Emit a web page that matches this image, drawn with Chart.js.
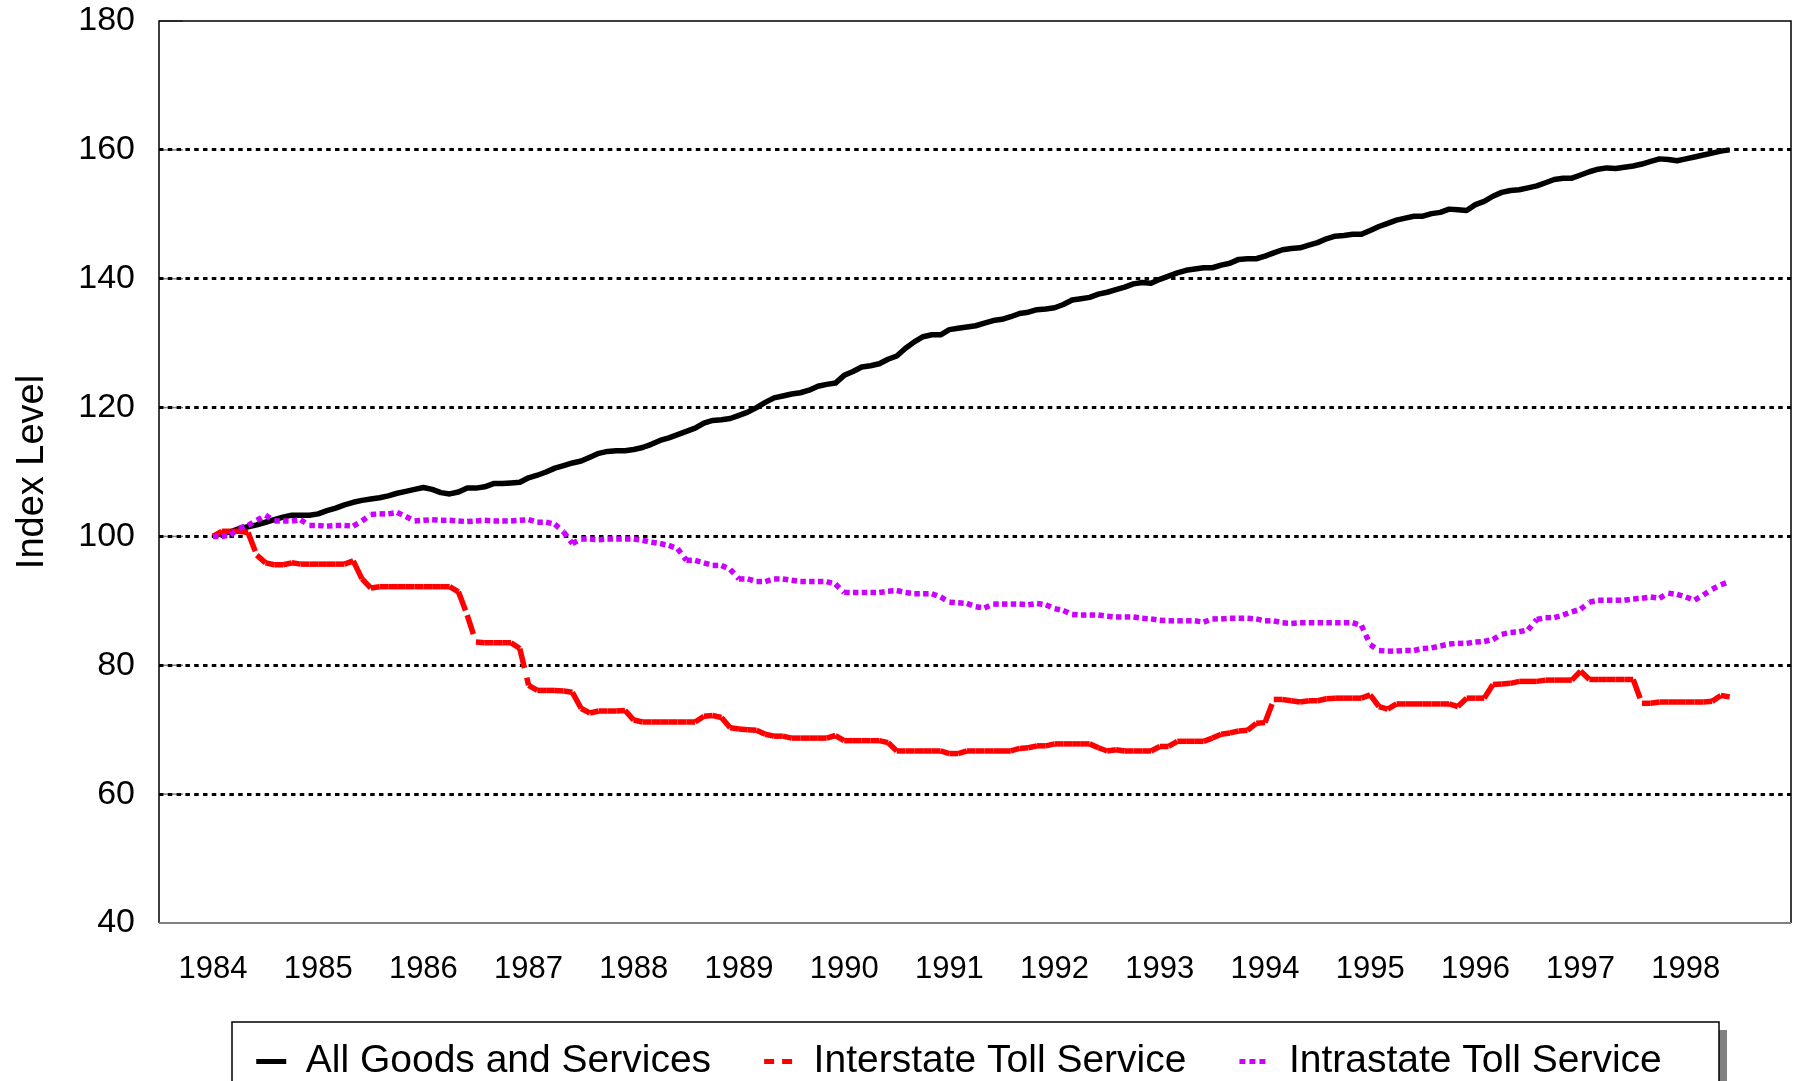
<!DOCTYPE html>
<html>
<head>
<meta charset="utf-8">
<title>Index Level 1984-1998</title>
<script src="https://cdn.jsdelivr.net/npm/chart.js@4.4.1/dist/chart.umd.min.js"></script>
<style>
  html, body { margin: 0; padding: 0; background: #fff; overflow: hidden; }
  #wrap { width: 1795px; height: 1100px; }
</style>
</head>
<body>
<div id="wrap"><canvas id="chart"></canvas></div>
<script>
// monthly index values, Jan 1984 = 100, running Jan 1984 .. Jun 1998
const startYear = 1984;
const yearTicks = [1984, 1985, 1986, 1987, 1988, 1989, 1990, 1991, 1992, 1993, 1994, 1995, 1996, 1997, 1998];
const seriesNames = ["All Goods and Services", "Interstate Toll Service", "Intrastate Toll Service"];

const allGoods = [
  100.0, 100.5, 100.7, 101.2, 101.5, 101.8, 102.2, 102.6, 103.0, 103.3, 103.3, 103.3,
  103.5, 104.0, 104.4, 104.9, 105.3, 105.6, 105.8, 106.0, 106.3, 106.7, 107.0, 107.3,
  107.6, 107.3, 106.8, 106.6, 106.9, 107.5, 107.5, 107.7, 108.2, 108.2, 108.3, 108.4,
  109.1, 109.5, 110.0, 110.6, 111.0, 111.4, 111.7, 112.3, 112.9, 113.2, 113.3, 113.3,
  113.5, 113.8, 114.3, 114.9, 115.3, 115.8, 116.3, 116.8, 117.6, 118.0, 118.1, 118.3,
  118.8, 119.3, 120.0, 120.8, 121.5, 121.8, 122.1, 122.3, 122.7, 123.3, 123.6, 123.8,
  125.0, 125.6, 126.3, 126.5, 126.8, 127.5, 128.0, 129.2, 130.2, 131.0, 131.3, 131.3,
  132.1, 132.3, 132.5, 132.7, 133.1, 133.5, 133.7, 134.1, 134.6, 134.8, 135.2, 135.3,
  135.5, 136.0, 136.7, 136.9, 137.1, 137.6, 137.9, 138.3, 138.7, 139.2, 139.4, 139.3,
  139.9, 140.4, 140.9, 141.3, 141.5, 141.7, 141.7, 142.1, 142.4, 143.0, 143.1, 143.1,
  143.5, 144.0, 144.5, 144.7, 144.8, 145.2, 145.6, 146.2, 146.6, 146.7, 146.9, 146.9,
  147.5, 148.1, 148.6, 149.1, 149.4, 149.7, 149.7, 150.1, 150.3, 150.8, 150.7, 150.6,
  151.5, 152.0, 152.8, 153.4, 153.7, 153.8, 154.1, 154.4, 154.9, 155.4, 155.6, 155.6,
  156.1, 156.6, 157.0, 157.2, 157.1, 157.3, 157.5, 157.8, 158.2, 158.6, 158.5, 158.3,
  158.6, 158.9, 159.2, 159.5, 159.8, 160.0
];

const interstate = [
  100.0, 100.8, 100.8, 100.8, 100.6, 97.1, 95.9, 95.6, 95.6, 95.9, 95.7, 95.7,
  95.7, 95.7, 95.7, 95.7, 96.2, 93.4, 92.0, 92.2, 92.2, 92.2, 92.2, 92.2,
  92.2, 92.2, 92.2, 92.2, 91.4, 87.8, 83.6, 83.5, 83.5, 83.5, 83.5, 82.6,
  76.9, 76.1, 76.1, 76.1, 76.0, 75.8, 73.3, 72.6, 72.9, 72.9, 72.9, 73.0,
  71.5, 71.2, 71.2, 71.2, 71.2, 71.2, 71.2, 71.2, 72.1, 72.2, 71.9, 70.3,
  70.1, 70.0, 69.9, 69.3, 69.0, 69.0, 68.7, 68.7, 68.7, 68.7, 68.7, 69.1,
  68.3, 68.3, 68.3, 68.3, 68.3, 68.0, 66.7, 66.7, 66.7, 66.7, 66.7, 66.7,
  66.3, 66.3, 66.7, 66.7, 66.7, 66.7, 66.7, 66.7, 67.1, 67.2, 67.5, 67.5,
  67.8, 67.8, 67.8, 67.8, 67.8, 67.2, 66.7, 66.9, 66.7, 66.7, 66.7, 66.7,
  67.4, 67.4, 68.2, 68.2, 68.2, 68.2, 68.7, 69.3, 69.5, 69.8, 69.9, 71.0,
  71.1, 74.7, 74.7, 74.5, 74.3, 74.5, 74.5, 74.8, 74.9, 74.9, 74.9, 74.9,
  75.4, 73.6, 73.2, 74.0, 74.0, 74.0, 74.0, 74.0, 74.0, 74.0, 73.6, 74.9,
  74.9, 74.9, 77.0, 77.1, 77.2, 77.5, 77.5, 77.5, 77.7, 77.7, 77.7, 77.7,
  79.1, 77.8, 77.8, 77.8, 77.8, 77.8, 77.8, 74.1, 74.1, 74.3, 74.3, 74.3,
  74.3, 74.3, 74.3, 74.4, 75.3, 75.1
];

const intrastate = [
  100.0, 100.0, 100.2, 101.3, 101.7, 102.5, 103.3, 102.4, 102.4, 102.4, 102.6, 101.7,
  101.7, 101.6, 101.7, 101.7, 101.6, 102.4, 103.4, 103.5, 103.5, 103.7, 103.1, 102.4,
  102.5, 102.6, 102.5, 102.5, 102.4, 102.3, 102.4, 102.5, 102.4, 102.4, 102.4, 102.5,
  102.6, 102.2, 102.2, 101.9, 100.7, 98.9, 99.6, 99.6, 99.5, 99.6, 99.6, 99.6,
  99.6, 99.4, 99.1, 98.9, 98.6, 98.1, 96.3, 96.3, 95.9, 95.5, 95.5, 94.9,
  93.4, 93.4, 93.0, 93.0, 93.4, 93.4, 93.2, 93.0, 93.0, 93.0, 93.0, 92.6,
  91.3, 91.3, 91.3, 91.3, 91.3, 91.5, 91.6, 91.3, 91.1, 91.1, 91.1, 90.6,
  89.8, 89.7, 89.6, 89.1, 88.9, 89.5, 89.5, 89.5, 89.5, 89.4, 89.6, 89.4,
  88.8, 88.5, 87.9, 87.8, 87.8, 87.8, 87.6, 87.5, 87.5, 87.5, 87.3, 87.2,
  87.0, 86.9, 86.9, 86.9, 86.9, 86.7, 87.2, 87.2, 87.3, 87.3, 87.3, 87.2,
  86.9, 86.9, 86.6, 86.5, 86.6, 86.6, 86.6, 86.6, 86.6, 86.6, 86.6, 86.2,
  83.2, 82.3, 82.2, 82.2, 82.3, 82.3, 82.6, 82.7, 83.0, 83.3, 83.4, 83.4,
  83.6, 83.7, 84.0, 84.8, 85.1, 85.2, 85.5, 87.1, 87.4, 87.4, 87.8, 88.3,
  88.7, 89.8, 90.1, 90.1, 90.1, 90.1, 90.3, 90.4, 90.6, 90.4, 91.2, 91.0,
  90.6, 90.1, 90.9, 91.8, 92.5, 93.0
];

const lineColors = ["#000000", "#ff0000", "#cc00ff"];
const legendDash = [[], [10, 8], [6, 4]];

Chart.defaults.font.family = "'Liberation Sans', Arial, sans-serif";
Chart.defaults.color = "#000";

// month index -> fractional year on the x axis
function toPoints(values) {
    return values.map((v, i) => ({ x: startYear + i / 12, y: v }));
}

// old-style dashes start over on every segment, so give neighbours a different offset
const restartDash = c => (c.p0DataIndex % 2) * 0.001;

const framePlugin = {
    id: "frame",
    afterLayout(chart) {
        // nudge the legend row a little to the left, like the original
        chart.legend.left -= 16;
        chart.legend.right -= 16;
    },
    beforeDraw(chart) {
        const { ctx, chartArea: a, scales: { y } } = chart;
        const lg = chart.legend;
        ctx.save();
        // legend box with its shadow
        const bx = a.left + 73, bw = a.width - 145, by = lg.top + 33, bh = 140;
        ctx.fillStyle = "#808080";
        ctx.fillRect(bx + 8, by + 8, bw, bh);
        ctx.fillStyle = "#fff";
        ctx.fillRect(bx, by, bw, bh);
        ctx.strokeStyle = "#000";
        ctx.lineWidth = 1.5;
        ctx.strokeRect(bx, by, bw, bh);
        // small inside tick marks on the value axis
        ctx.strokeStyle = "#808080";
        ctx.lineWidth = 1.5;
        y.ticks.forEach(t => {
            const py = y.getPixelForValue(t.value);
            ctx.beginPath();
            ctx.moveTo(a.left, py);
            ctx.lineTo(a.left + 24, py);
            ctx.stroke();
        });
        ctx.restore();
    },
    afterDatasetsDraw(chart) {
        const { ctx, chartArea: a } = chart;
        ctx.save();
        ctx.strokeStyle = "#000";
        ctx.lineWidth = 1.5;
        ctx.beginPath();
        ctx.moveTo(a.left, a.bottom);
        ctx.lineTo(a.left, a.top);
        ctx.lineTo(a.right, a.top);
        ctx.lineTo(a.right, a.bottom);
        ctx.stroke();
        ctx.strokeStyle = "#808080";
        ctx.lineWidth = 2;
        ctx.beginPath();
        ctx.moveTo(a.left, a.bottom);
        ctx.lineTo(a.right, a.bottom);
        ctx.stroke();
        ctx.restore();
    }
};

new Chart(document.getElementById("chart"), {
    type: "line",
    data: {
        datasets: [
            {
                label: seriesNames[0],
                data: toPoints(allGoods),
                borderColor: lineColors[0],
                backgroundColor: lineColors[0],
                borderWidth: 5.5,
                borderJoinStyle: "round",
                pointRadius: 0,
                pointStyle: "line",
                order: 3
            },
            {
                label: seriesNames[1],
                data: toPoints(interstate),
                borderColor: lineColors[1],
                backgroundColor: lineColors[1],
                borderWidth: 5.5,
                borderDash: [20, 10],
                segment: { borderDashOffset: restartDash },
                pointRadius: 0,
                pointStyle: "line",
                order: 2
            },
            {
                label: seriesNames[2],
                data: toPoints(intrastate),
                borderColor: lineColors[2],
                backgroundColor: lineColors[2],
                borderWidth: 5.5,
                borderDash: [5.5, 5],
                segment: { borderDashOffset: restartDash },
                pointRadius: 0,
                pointStyle: "line",
                order: 1
            }
        ]
    },
    options: {
        responsive: true,
        maintainAspectRatio: false,
        animation: false,
        events: [],
        layout: { padding: { top: 21, right: 4, bottom: 9, left: 0 } },
        scales: {
            x: {
                type: "linear",
                min: 1983.487,
                max: 1999,
                afterBuildTicks: s => { s.ticks = yearTicks.map(v => ({ value: v })); },
                afterFit: s => { s.height = 66; },
                grid: { display: false, drawTicks: false },
                border: { display: false },
                ticks: {
                    autoSkip: false,
                    maxRotation: 0,
                    padding: 28,
                    font: { size: 31 },
                    color: "#000",
                    callback: v => String(v)
                }
            },
            y: {
                min: 40,
                max: 180,
                afterFit: s => { s.width = 159; s.paddingTop = 0; s.paddingBottom = 0; },
                grid: {
                    color: c => (c.tick.value === 40 || c.tick.value === 180) ? "rgba(0,0,0,0)" : "#000",
                    lineWidth: 3,
                    drawTicks: false
                },
                border: { display: false, dash: [4.5, 4.3] },
                ticks: { stepSize: 20, padding: 24, font: { size: 34 }, color: "#000" },
                title: {
                    display: true,
                    text: "Index Level",
                    font: { size: 38, lineHeight: 1 },
                    padding: { top: 14, bottom: 0 },
                    color: "#000"
                }
            }
        },
        plugins: {
            tooltip: { enabled: false },
            legend: {
                position: "bottom",
                fullSize: false,
                labels: {
                    usePointStyle: true,
                    pointStyleWidth: 30,
                    padding: 53,
                    font: { size: 39 },
                    color: "#000",
                    generateLabels: chart => chart.data.datasets.map((ds, i) => ({
                        text: ds.label,
                        fillStyle: ds.borderColor,
                        strokeStyle: ds.borderColor,
                        lineWidth: 5,
                        lineDash: legendDash[i],
                        pointStyle: "line",
                        fontColor: "#000",
                        hidden: false,
                        datasetIndex: i
                    }))
                }
            }
        }
    },
    plugins: [framePlugin]
});
</script>
</body>
</html>
